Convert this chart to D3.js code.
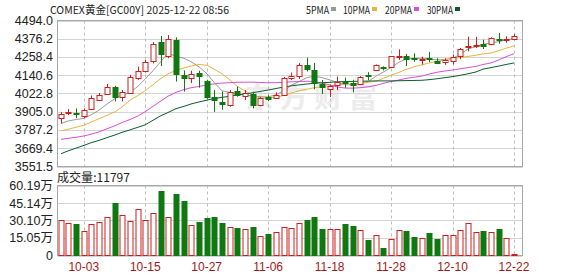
<!DOCTYPE html>
<html><head><meta charset="utf-8">
<script src="https://cdn.jsdelivr.net/npm/d3@7"></script>
<style>body{margin:0;background:#fff;} svg{display:block;}</style>
</head><body>
<svg id="c" width="578" height="276"></svg>
<script>
const title = "COMEX黄金[GC00Y] 2025-12-22 08:56";
const volTitle = "成交量:11797";
const maNames = ["5PMA","10PMA","20PMA","30PMA"];
const maColors = ["#9a9a9a","#e8b53c","#d94fd9","#0b5d2c"];

const dates = ["09-30","10-01","10-02","10-03","10-06","10-07","10-08","10-09","10-10","10-13","10-14","10-15","10-16","10-17","10-20","10-21","10-22","10-23","10-24","10-27","10-28","10-29","10-30","10-31","11-03","11-04","11-05","11-06","11-07","11-10","11-11","11-12","11-13","11-14","11-17","11-18","11-19","11-20","11-21","11-24","11-25","11-26","11-27","11-28","12-01","12-02","12-03","12-04","12-05","12-08","12-09","12-10","12-11","12-12","12-15","12-16","12-17","12-18","12-19","12-22"];
const open  = [3862,3894,3898,3876,3920,3980,4019,4063,3998,4024,4121,4167,4230,4353,4265,4370,4143,4121,4152,4102,3998,3968,3950,4038,4008,4018,3950,3998,3996,4013,4122,4138,4208,4175,4085,4052,4080,4098,4088,4085,4142,4172,4197,4197,4258,4267,4255,4238,4252,4230,4224,4230,4262,4320,4331,4340,4342,4376,4368,4377];
const high  = [3904,3922,3926,3926,4010,4026,4085,4072,4045,4143,4196,4240,4354,4394,4400,4385,4172,4170,4170,4112,4045,4035,4045,4067,4045,4034,4000,4012,4030,4130,4158,4219,4254,4220,4110,4080,4132,4125,4112,4135,4160,4210,4198,4265,4308,4278,4282,4260,4290,4250,4250,4275,4316,4390,4388,4370,4385,4414,4392,4405];
const low   = [3829,3883,3864,3864,3917,3974,4013,3972,3972,4020,4111,4158,4217,4200,4250,4100,4035,4090,4060,3988,3905,3918,3937,4002,3980,3926,3940,3975,3990,4010,4110,4117,4165,4050,4020,4000,4045,4060,4030,4080,4110,4168,4172,4192,4240,4200,4228,4210,4225,4212,4208,4210,4245,4295,4316,4310,4338,4344,4350,4372];
const close = [3890,3904,3888,3915,3991,4013,4067,3998,4034,4132,4165,4228,4345,4277,4375,4150,4121,4148,4135,4000,3980,3955,4034,4015,4024,3950,3996,3990,4015,4123,4136,4204,4180,4090,4062,4071,4098,4088,4080,4132,4138,4205,4193,4262,4266,4243,4248,4246,4245,4220,4236,4256,4312,4332,4338,4328,4378,4368,4376,4397];
const volume = [305000,282000,270000,209000,270000,291000,331000,453000,349000,297000,401000,305000,366000,558000,331000,526000,465000,262000,291000,323000,334000,282000,244000,238000,227000,244000,166000,186000,201000,244000,233000,282000,305000,329000,227000,227000,227000,270000,253000,218000,131000,180000,67000,145000,215000,209000,163000,154000,192000,140000,172000,172000,215000,279000,201000,209000,201000,227000,154000,11797];
const ma5  = [3829,3845,3855,3862,3885,3915,3955,3990,4015,4028,4070,4115,4170,4230,4284,4262,4250,4228,4195,4150,4095,4040,4030,4020,4012,4008,4002,4000,4015,4040,4075,4100,4125,4135,4125,4110,4095,4080,4080,4088,4100,4135,4160,4190,4225,4245,4250,4250,4245,4240,4242,4250,4275,4310,4325,4340,4349,4358,4368,4377];
const ma10 = [3781,3792,3805,3818,3838,3860,3882,3905,3935,3980,4010,4040,4080,4120,4150,4172,4188,4200,4210,4205,4180,4150,4110,4070,4040,4010,3995,3992,3998,4010,4025,4040,4050,4060,4067,4073,4078,4082,4085,4089,4095,4102,4120,4140,4160,4178,4195,4208,4220,4230,4240,4250,4255,4262,4270,4278,4284,4300,4315,4330];
const ma20 = [3727,3733,3740,3749,3760,3775,3795,3815,3835,3855,3878,3905,3940,3975,4005,4030,4048,4060,4068,4078,4085,4090,4093,4095,4096,4096,4094,4092,4093,4095,4098,4100,4102,4100,4090,4078,4065,4058,4057,4060,4066,4075,4088,4100,4110,4120,4128,4135,4148,4160,4168,4175,4182,4190,4198,4210,4220,4240,4260,4280];
const ma30 = [3634,3652,3670,3688,3705,3720,3738,3755,3772,3788,3805,3820,3850,3880,3900,3925,3940,3955,3968,3980,3990,3998,4005,4013,4020,4028,4036,4045,4055,4065,4072,4078,4084,4089,4092,4095,4098,4100,4101,4102,4103,4104,4104,4104,4105,4106,4107,4108,4112,4118,4125,4132,4140,4150,4162,4180,4190,4200,4210,4220];

const priceTicks = [4494.0,4376.2,4258.4,4140.6,4022.8,3905.0,3787.2,3669.4,3551.5];
const priceTickLabels = ["4494.0","4376.2","4258.4","4140.6","4022.8","3905.0","3787.2","3669.4","3551.5"];
const volTicks = [601900,451400,301000,150500,0];
const volTickLabels = ["60.19万","45.14万","30.10万","15.05万","0"];
const dateTicks = ["10-03","10-15","10-27","11-06","11-18","11-28","12-10","12-22"];

const RED = "#cc1f1f", GREEN = "#107810";
const L = 57.5, R = 522.5, PT = 20.5, PB = 166.5, VT = 185.5, VB = 255.5;
const svg = d3.select("#c");

const x = d3.scaleBand().domain(dates).range([56.9, 517.8]).paddingInner(0.3).paddingOuter(0.15);
const cx = d => Math.round(x(d) + x.bandwidth()/2);
const y = d3.scaleLinear().domain([3551.5, 4494.0]).range([PB, PT]);
const yv = d3.scaleLinear().domain([0, 601900]).range([VB, VT]);

// header
svg.append("text").attr("x",50).attr("y",13.5).attr("font-family","Noto Sans CJK SC, DejaVu Sans").attr("font-size",11)
  .attr("fill","#222").attr("textLength",179).attr("lengthAdjust","spacingAndGlyphs").text(title);
const legX = [306, 343, 385, 427], legW = [23, 27, 27, 26];
maNames.forEach((n,i)=>{
  svg.append("text").attr("x",legX[i]).attr("y",13.5).attr("font-family","Noto Sans CJK SC, DejaVu Sans").attr("font-size",11)
    .attr("fill","#222").attr("textLength",legW[i]).attr("lengthAdjust","spacingAndGlyphs").text(n);
  svg.append("rect").attr("x",legX[i]+legW[i]+2).attr("y",7).attr("width",5).attr("height",4).attr("fill",maColors[i]);
});

// watermark
svg.append("text").attr("x",311).attr("y",108).attr("text-anchor","middle").attr("font-family","Noto Sans CJK SC")
  .attr("font-weight","bold").attr("font-size",28).attr("fill","#ececec").attr("textLength",132).text("东方财富");

// price grid
const grid = svg.append("g");
priceTicks.forEach(t=>{
  grid.append("line").attr("x1",L).attr("x2",R).attr("y1",Math.round(y(t))+0.5).attr("y2",Math.round(y(t))+0.5).attr("stroke","#d4d4d4");
});
volTicks.forEach(t=>{
  grid.append("line").attr("x1",L).attr("x2",R).attr("y1",Math.round(yv(t))+0.5).attr("y2",Math.round(yv(t))+0.5).attr("stroke","#d4d4d4");
});
dateTicks.forEach(d=>{
  [[PT,PB],[VT,VB]].forEach(([a,b])=>{
    grid.append("line").attr("x1",cx(d)+0.5).attr("x2",cx(d)+0.5).attr("y1",a).attr("y2",b)
      .attr("stroke","#bdbdbd").attr("stroke-dasharray","3,3");
  });
});
// borders
svg.append("rect").attr("x",L).attr("y",PT).attr("width",R-L).attr("height",PB-PT).attr("fill","none").attr("stroke","#a8a8a8");
svg.append("rect").attr("x",L).attr("y",VT).attr("width",R-L).attr("height",VB-VT).attr("fill","none").attr("stroke","#a8a8a8");

// axes
const gy = svg.append("g").attr("transform",`translate(${L-0.5},0)`)
  .call(d3.axisLeft(y).tickValues(priceTicks).tickFormat((d,i)=>priceTickLabels[i]).tickSize(0).tickPadding(4));
gy.select(".domain").remove();
gy.selectAll("text").attr("font-family","Liberation Sans, Arial").attr("font-size",12.5).attr("fill","#222");
const gv = svg.append("g").attr("transform",`translate(${L-0.5},0)`)
  .call(d3.axisLeft(yv).tickValues(volTicks).tickFormat((d,i)=>volTickLabels[i]).tickSize(0).tickPadding(4));
gv.select(".domain").remove();
gv.selectAll("text").attr("font-family","Liberation Sans, Noto Sans CJK SC").attr("font-size",12.5).attr("fill","#222");
const gx = svg.append("g").attr("transform",`translate(0,${VB})`)
  .call(d3.axisBottom(x).tickValues(dateTicks).tickSize(0).tickPadding(7));
gx.select(".domain").remove();
gx.selectAll("text").attr("font-family","Liberation Sans, Arial").attr("font-size",12).attr("fill","#a01818");

svg.append("text").attr("x",57).attr("y",182).attr("font-family","Noto Sans CJK SC").attr("font-size",12)
  .attr("fill","#222").attr("textLength",73).attr("lengthAdjust","spacingAndGlyphs").text(volTitle);

// MA lines
[ma5,ma10,ma20,ma30].forEach((arr,k)=>{
  svg.append("path").datum(arr).attr("fill","none").attr("stroke",maColors[k]).attr("stroke-width",1)
    .attr("d", d3.line().x((d,i)=>cx(dates[i])).y(d=>y(d)));
});

// candles
const cg = svg.append("g");
dates.forEach((d,i)=>{
  const up = close[i] >= open[i];
  const col = up ? RED : GREEN;
  const xc = cx(d) + 0.5;
  const top = Math.round(y(Math.max(open[i],close[i]))) + 0.5;
  let bot = Math.round(y(Math.min(open[i],close[i]))) + 0.5;
  if (bot - top < 1) bot = top + 1;
  cg.append("line").attr("x1",xc).attr("x2",xc).attr("y1",y(high[i])).attr("y2",top).attr("stroke",col);
  cg.append("line").attr("x1",xc).attr("x2",xc).attr("y1",bot).attr("y2",y(low[i])).attr("stroke",col);
  cg.append("rect").attr("x",xc-2.5).attr("y",top).attr("width",5).attr("height",bot-top)
    .attr("fill", up ? "#fff" : GREEN).attr("stroke",col);
  // volume
  const vt = Math.round(yv(volume[i])) + 0.5;
  cg.append("rect").attr("x",xc-2.5).attr("y",vt).attr("width",5).attr("height",Math.max(0,VB-vt))
    .attr("fill", up ? "#fff" : GREEN).attr("stroke",col);
});
</script>
</body></html>
